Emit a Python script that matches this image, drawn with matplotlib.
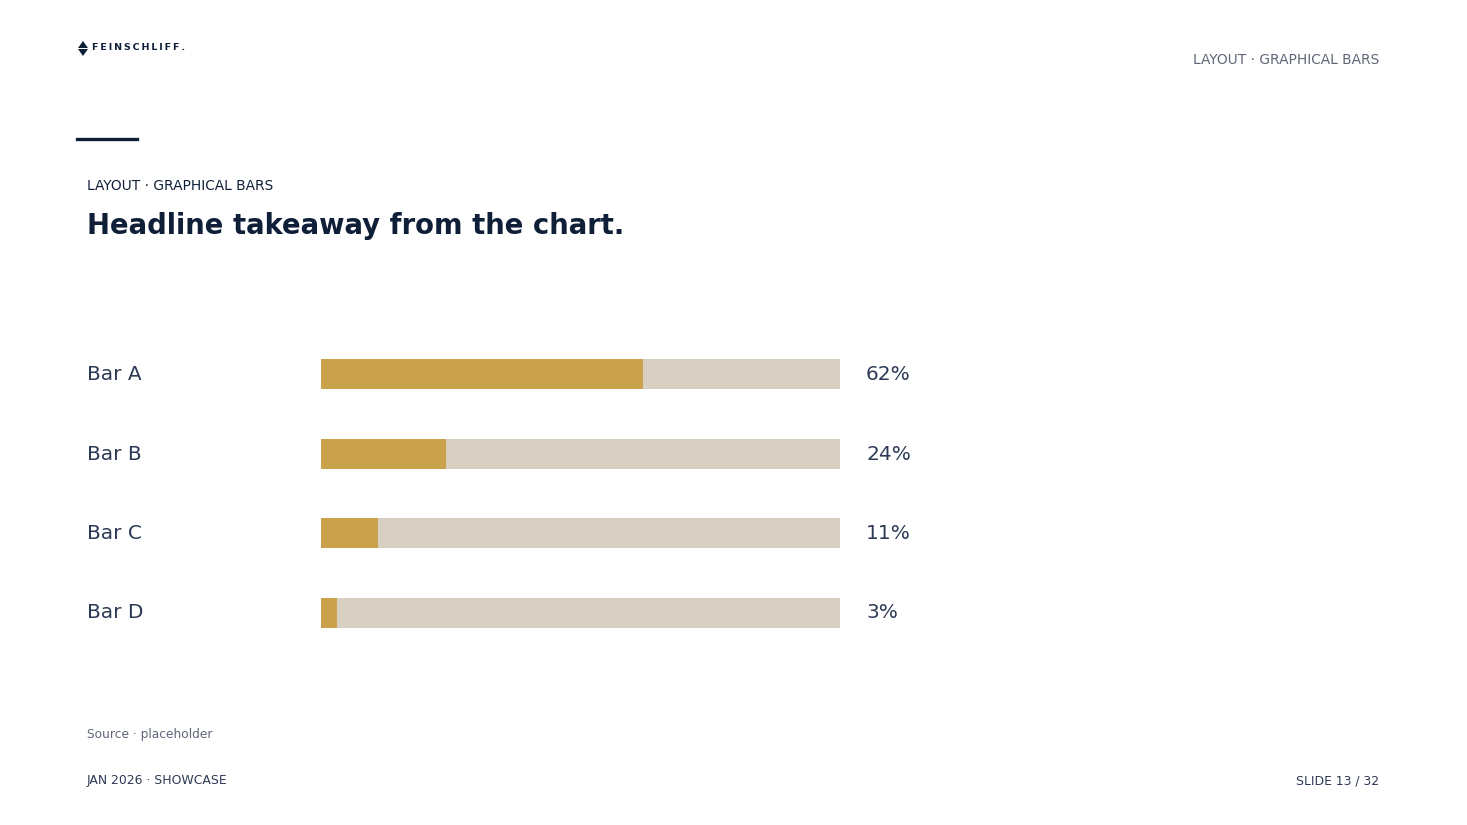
import matplotlib.pyplot as plt
from matplotlib.patches import Polygon

labels = ["Bar A", "Bar B", "Bar C", "Bar D"]
values = [62, 24, 11, 3]
value_labels = ["62%", "24%", "11%", "3%"]

W, H = 1467, 825
gold = "#c9a24b"
track = "#d7d0c2"
navy = "#0f1f38"
text = "#2d3a55"
grey = "#5f6677"

fig = plt.figure(figsize=(W / 100, H / 100), dpi=100)
fig.patch.set_facecolor("white")

def fx(px):
    return px / W

def fy(py):
    return 1 - py / H

# bar panel: bars centred at y=374..612.5 px, x from 321 to 840 px
top, bot = 334.25, 652.75
ax = fig.add_axes([fx(321), fy(bot), fx(840) - fx(321), (bot - top) / H])
ypos = list(range(len(labels)))
ax.barh(ypos, [100] * len(values), height=0.38, color=track, linewidth=0)
ax.barh(ypos, values, height=0.38, color=gold, linewidth=0)
ax.set_xlim(0, 100)
ax.set_ylim(len(labels) - 0.5, -0.5)
ax.axis("off")

for i, (lab, vl) in enumerate(zip(labels, value_labels)):
    ypx = 374.5 + i * 79.5
    fig.text(fx(87), fy(ypx), lab, fontsize=14.5, color=text, va="center", ha="left")
    fig.text(fx(866), fy(ypx), vl, fontsize=14.5, color=text, va="center", ha="left")

# header
logo_top = Polygon([[fx(78), fy(48)], [fx(83), fy(41)], [fx(88), fy(48)]],
                   closed=True, transform=fig.transFigure, color=navy, lw=0)
logo_bot = Polygon([[fx(78), fy(49)], [fx(83), fy(56)], [fx(88), fy(49)]],
                   closed=True, transform=fig.transFigure, color=navy, lw=0)
fig.patches.extend([logo_top, logo_bot])
fig.text(fx(92), fy(48), "\u2009".join("FEINSCHLIFF."), fontsize=6.8, color=navy,
         fontweight="bold", va="center", ha="left")
fig.text(fx(1379), fy(60.5), "LAYOUT · GRAPHICAL BARS", fontsize=9.9, color=grey,
         va="center", ha="right")

fig.add_artist(plt.Line2D([fx(77), fx(137)], [fy(138.5), fy(138.5)],
                          color=navy, lw=2.4, transform=fig.transFigure))

fig.text(fx(87), fy(186), "LAYOUT · GRAPHICAL BARS", fontsize=9.9, color=navy,
         va="center", ha="left")
fig.text(fx(87), fy(226.5), "Headline takeaway from the chart.", fontsize=19.8,
         color=navy, fontweight="bold", va="center", ha="left")

# footer
fig.text(fx(87), fy(734.5), "Source · placeholder", fontsize=8.8, color=grey,
         va="center", ha="left")
fig.text(fx(87), fy(780.5), "JAN 2026 · SHOWCASE", fontsize=8.9, color=text,
         va="center", ha="left")
fig.text(fx(1379), fy(780.5), "SLIDE 13 / 32", fontsize=8.9, color=text,
         va="center", ha="right")

fig.savefig("out.png", dpi=100, facecolor="white")
